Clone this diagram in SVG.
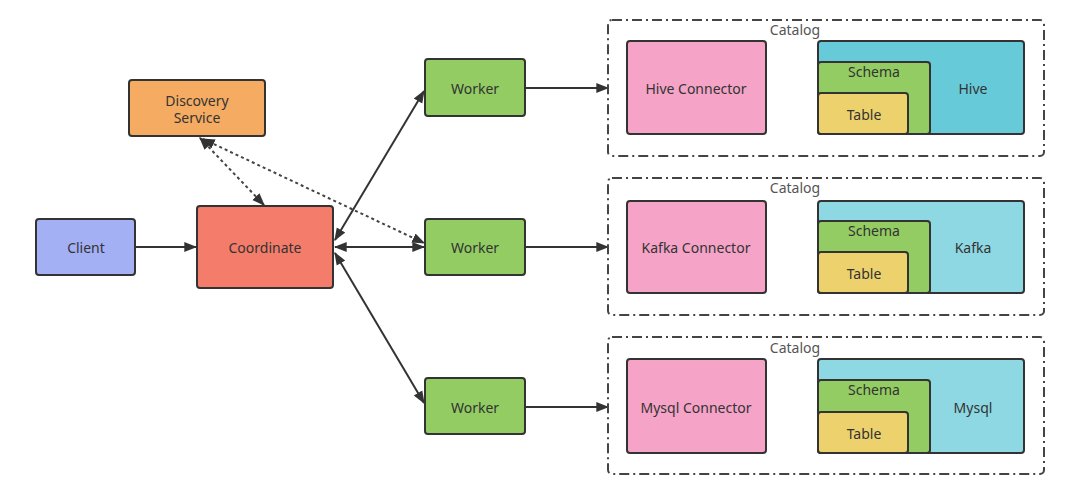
<svg xmlns="http://www.w3.org/2000/svg" width="1066" height="487" viewBox="0 0 1066 487">
<defs>
<style>
.n{stroke:#333;stroke-width:2}
.t{font-family:"Noto Sans","Open Sans",sans-serif;font-size:14px;fill:#333;text-anchor:middle;dominant-baseline:central}
.cat{fill:none;stroke:#444;stroke-width:2;stroke-dasharray:10 4 2 4}
.ct{font-family:"Noto Sans","Open Sans",sans-serif;font-size:14px;fill:#555;text-anchor:middle;dominant-baseline:central}
.c{stroke:#333;stroke-width:2;fill:none}
.d{stroke:#444;stroke-width:2;fill:none;stroke-dasharray:3 3}
</style>
<marker id="a" viewBox="0 0 10 10" refX="9" refY="5" markerWidth="6.5" markerHeight="6.5" markerUnits="strokeWidth" orient="auto-start-reverse">
<path d="M0,1.2 L10,5 L0,8.8 Z" fill="#333"/>
</marker>
</defs>
<rect width="1066" height="487" fill="#fff"/>
<g id="connectors">
<line class="c" x1="136" y1="247" x2="196" y2="247" marker-end="url(#a)"/>
<line class="c" x1="335" y1="240" x2="424" y2="91" marker-start="url(#a)" marker-end="url(#a)"/>
<line class="c" x1="335" y1="247" x2="424" y2="247" marker-start="url(#a)" marker-end="url(#a)"/>
<line class="c" x1="335" y1="253" x2="424" y2="403" marker-start="url(#a)" marker-end="url(#a)"/>
<line class="d" x1="200" y1="138" x2="264" y2="205" marker-start="url(#a)" marker-end="url(#a)"/>
<line class="d" x1="203" y1="139" x2="424" y2="243" marker-start="url(#a)" marker-end="url(#a)"/>
<line class="c" x1="526" y1="88" x2="608" y2="88" marker-end="url(#a)"/>
<line class="c" x1="526" y1="247" x2="608" y2="247" marker-end="url(#a)"/>
<line class="c" x1="526" y1="407" x2="608" y2="407" marker-end="url(#a)"/>
</g>
<g id="discovery"><rect class="n" x="129" y="80" width="136" height="56" rx="3" fill="#F5AC62"/><text class="t" x="197" y="100">Discovery</text><text class="t" x="197" y="117">Service</text></g>
<g id="client"><rect class="n" x="36" y="219" width="99" height="56" rx="3" fill="#A3B0F4"/><text class="t" x="86" y="247">Client</text></g>
<g id="coordinate"><rect class="n" x="197" y="206" width="136" height="82" rx="3" fill="#F47C6A"/><text class="t" x="265" y="247">Coordinate</text></g>
<g id="worker1"><rect class="n" x="425" y="59" width="100" height="57" rx="3" fill="#92CC62"/><text class="t" x="475" y="88">Worker</text></g>
<g id="worker2"><rect class="n" x="425" y="219" width="100" height="56" rx="3" fill="#92CC62"/><text class="t" x="475" y="247">Worker</text></g>
<g id="worker3"><rect class="n" x="425" y="378" width="100" height="56" rx="3" fill="#92CC62"/><text class="t" x="475" y="407">Worker</text></g>
<g id="catalog1">
<rect class="cat" x="608" y="20" width="436" height="136" rx="4"/>
<text class="ct" x="795" y="29">Catalog</text>
<rect class="n" x="627" y="41" width="139" height="93" rx="3" fill="#F5A3C7"/><text class="t" x="696" y="88">Hive Connector</text>
<rect class="n" x="818" y="41" width="206" height="93" rx="3" fill="#66CAD8"/><text class="t" x="973" y="88">Hive</text>
<rect class="n" x="818" y="62" width="112" height="72" rx="3" fill="#92CC62"/><text class="t" x="874" y="71">Schema</text>
<rect class="n" x="818" y="93" width="90" height="41" rx="3" fill="#EDD16D"/><text class="t" x="864" y="114">Table</text>
</g>
<g id="catalog2">
<rect class="cat" x="608" y="178" width="436" height="137" rx="4"/>
<text class="ct" x="795" y="187">Catalog</text>
<rect class="n" x="627" y="201" width="139" height="92" rx="3" fill="#F5A3C7"/><text class="t" x="696" y="247">Kafka Connector</text>
<rect class="n" x="818" y="201" width="206" height="92" rx="3" fill="#8DD8E3"/><text class="t" x="973" y="247">Kafka</text>
<rect class="n" x="818" y="221" width="112" height="72" rx="3" fill="#92CC62"/><text class="t" x="874" y="230">Schema</text>
<rect class="n" x="818" y="252" width="90" height="41" rx="3" fill="#EDD16D"/><text class="t" x="864" y="273">Table</text>
</g>
<g id="catalog3">
<rect class="cat" x="608" y="337" width="436" height="137" rx="4"/>
<text class="ct" x="795" y="347">Catalog</text>
<rect class="n" x="627" y="359" width="139" height="94" rx="3" fill="#F5A3C7"/><text class="t" x="696" y="407">Mysql Connector</text>
<rect class="n" x="818" y="359" width="206" height="94" rx="3" fill="#8DD8E3"/><text class="t" x="973" y="407">Mysql</text>
<rect class="n" x="818" y="380" width="112" height="73" rx="3" fill="#92CC62"/><text class="t" x="874" y="389">Schema</text>
<rect class="n" x="818" y="412" width="90" height="41" rx="3" fill="#EDD16D"/><text class="t" x="864" y="433">Table</text>
</g>
</svg>
